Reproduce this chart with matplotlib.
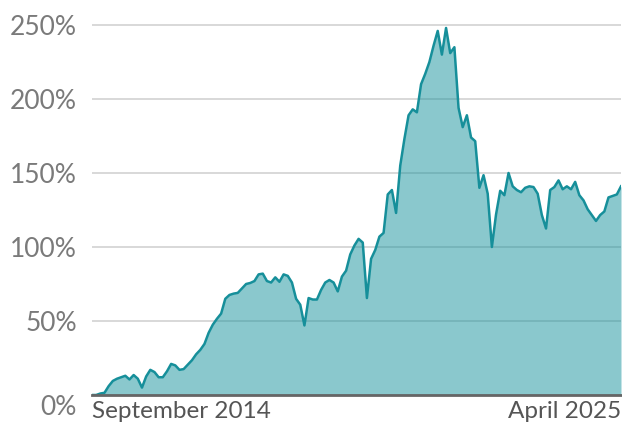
import numpy as np
import pandas as pd
import matplotlib
matplotlib.use("Agg")
import matplotlib.pyplot as plt
from matplotlib.transforms import ScaledTranslation

# monthly cumulative return (%), Sep 2014 -> Apr 2025
months = pd.date_range("2014-09-01", "2025-04-01", freq="MS")
returns = [
    0, 0, 1, 1.5, 6, 9.5, 11, 12, 13, 10.5,
    13.5, 11, 5, 12.5, 17, 15.5, 12, 12, 16, 21,
    20, 17, 17.5, 20.5, 23.5, 27.5, 30.5, 34.5, 42, 47.5,
    51.5, 55, 65, 67.6, 68.5, 69, 72, 75, 75.7, 77,
    81.5, 82, 77, 76, 79.5, 76.5, 81.5, 80.5, 76, 65,
    61, 47, 65.5, 64.5, 64.5, 71, 76, 77.7, 76, 70,
    80, 84, 95, 101, 105.5, 103, 65.5, 92, 98, 107,
    109.5, 135.5, 138.5, 123, 155, 173, 189, 193, 191, 210,
    217, 225, 236, 246, 230, 248, 231, 235, 194, 181,
    189, 174, 171.5, 140, 148.5, 136, 100, 122, 138, 135,
    150, 141, 138.5, 137, 140, 141, 140.5, 136, 121.6, 112.5,
    138.5, 140.5, 145, 139, 141, 139, 144, 135, 131.5, 125.5,
    121.6, 117.6, 121.6, 124, 133.5, 134.5, 135.5, 141,
]
y_ticks = [0, 50, 100, 150, 200, 250]
start_label = "September 2014"
end_label = "April 2025"

plt.rcParams["font.family"] = ["Lato", "DejaVu Sans"]

fig = plt.figure(figsize=(6.22, 4.30), dpi=100)
ax = fig.add_axes([92 / 622, 35 / 430, 529 / 622, 375 / 430])

x = np.arange(len(returns))
ax.fill_between(x, 0, returns, color="#17929d", alpha=0.5, lw=0, zorder=2)
ax.plot(x, returns, color="#168f9a", lw=1.8, zorder=3)

ax.set_xlim(0, len(returns) - 1)
ax.set_ylim(0, 250 * 375 / 370)

# grid + axis styling
ax.set_yticks(y_ticks)
ax.set_yticklabels([f"{v}%" for v in y_ticks], fontsize=19, color="#7a7a7a")
ax.yaxis.grid(True, color="#d6d6d6", lw=1.3, zorder=1)
ax.set_axisbelow(True)
ax.tick_params(axis="y", length=0, pad=11)
ax.set_xticks([])
for s in ["top", "right", "left"]:
    ax.spines[s].set_visible(False)
ax.spines["bottom"].set_color("#666666")
ax.spines["bottom"].set_linewidth(2)
ax.spines["bottom"].set_zorder(4)

# push the 0% label a bit below the baseline
lbl0 = ax.get_yticklabels()[0]
lbl0.set_transform(lbl0.get_transform() + ScaledTranslation(0, -10 / 100, fig.dpi_scale_trans))

ax.text(0, -0.015, start_label, transform=ax.transAxes, ha="left", va="top",
        fontsize=17.5, color="#555555")
ax.text(1, -0.015, end_label, transform=ax.transAxes, ha="right", va="top",
        fontsize=17.5, color="#555555")

plt.savefig("out.png", dpi=100)
